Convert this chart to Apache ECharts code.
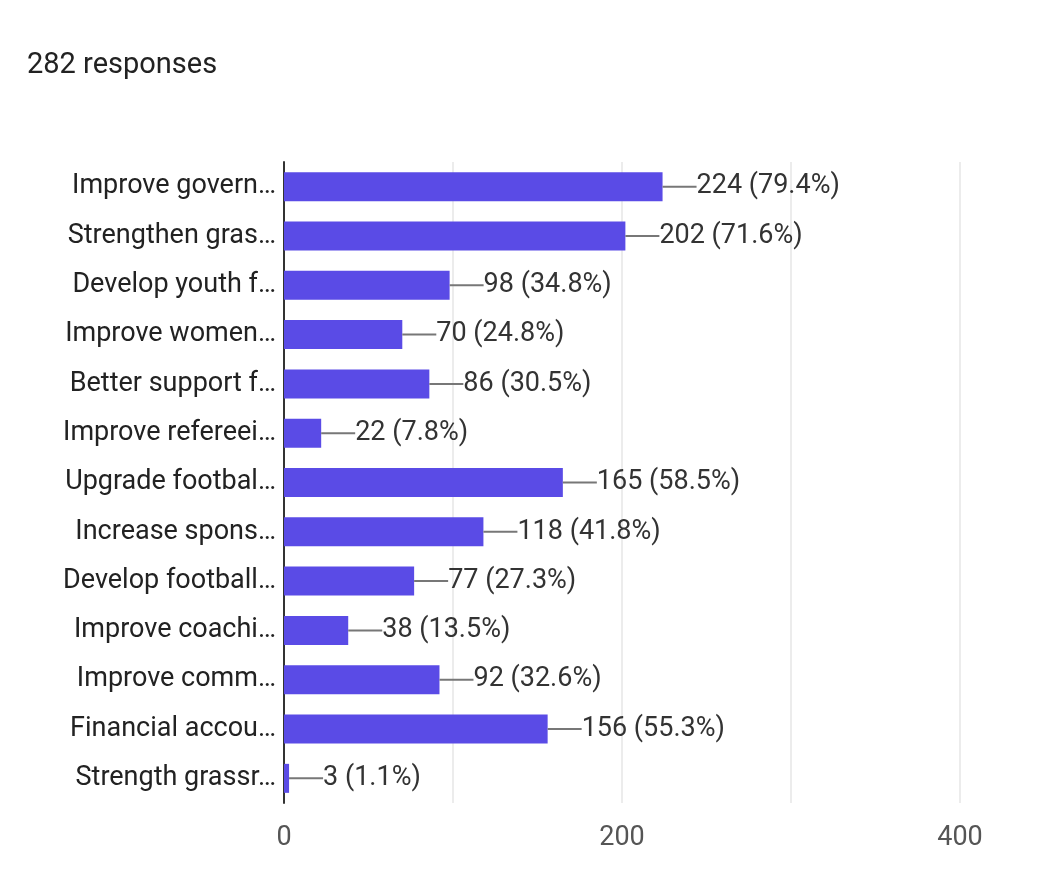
<!DOCTYPE html>
<html>
<head>
<meta charset="utf-8">
<script src="https://cdn.jsdelivr.net/npm/echarts@6/dist/echarts.min.js"></script>
<style>html,body{margin:0;background:#fff}#main{width:1040px;height:873px}</style>
</head>
<body>
<div id="main"></div>
<script>
var categories = ['Improve govern…', 'Strengthen gras…', 'Develop youth f…', 'Improve women…', 'Better support f…',
    'Improve refereei…', 'Upgrade footbal…', 'Increase spons…', 'Develop football…', 'Improve coachi…',
    'Improve comm…', 'Financial accou…', 'Strength grassr…'];
var counts = [224, 202, 98, 70, 86, 22, 165, 118, 77, 38, 92, 156, 3];
var percents = ['79.4%', '71.6%', '34.8%', '24.8%', '30.5%', '7.8%', '58.5%', '41.8%', '27.3%', '13.5%', '32.6%', '55.3%', '1.1%'];
var tickLabels = [0, 200, 400];

var myChart = echarts.init(document.getElementById('main'));
var option = {
    title: {
        text: '282 responses',
        left: 22, top: 46,
        textStyle: { fontFamily: 'Roboto', fontSize: 29, fontWeight: 'normal', color: '#222' }
    },
    grid: { left: 284, right: 80, top: 162, bottom: 70 },
    xAxis: {
        type: 'value', min: 0, max: 400, interval: 100,
        axisLine: { show: false },
        axisTick: { show: false },
        splitLine: { lineStyle: { color: '#e6e6e6', width: 1.5 } },
        axisLabel: {
            margin: 22,
            fontFamily: 'Roboto', fontSize: 27, color: '#555',
            formatter: function (v) { return tickLabels.indexOf(v) >= 0 ? String(v) : ''; }
        }
    },
    yAxis: {
        type: 'category', inverse: true, data: categories,
        axisLine: { lineStyle: { color: '#333', width: 2 } },
        axisTick: { show: false },
        axisLabel: { margin: 8, fontFamily: 'Roboto', fontSize: 27, color: '#222' }
    },
    series: [{
        type: 'bar',
        data: counts,
        barWidth: 29,
        itemStyle: { color: '#5a4be6' },
        label: {
            show: true, position: 'right', distance: 0,
            fontFamily: 'Roboto', fontSize: 27, color: '#333',
            formatter: function (p) { return '{l| }' + p.value + ' (' + percents[p.dataIndex] + ')'; },
            rich: { l: { width: 34, height: 2, backgroundColor: '#777', fontSize: 2 } }
        }
    }]
};
myChart.setOption(option);
</script>
</body>
</html>
